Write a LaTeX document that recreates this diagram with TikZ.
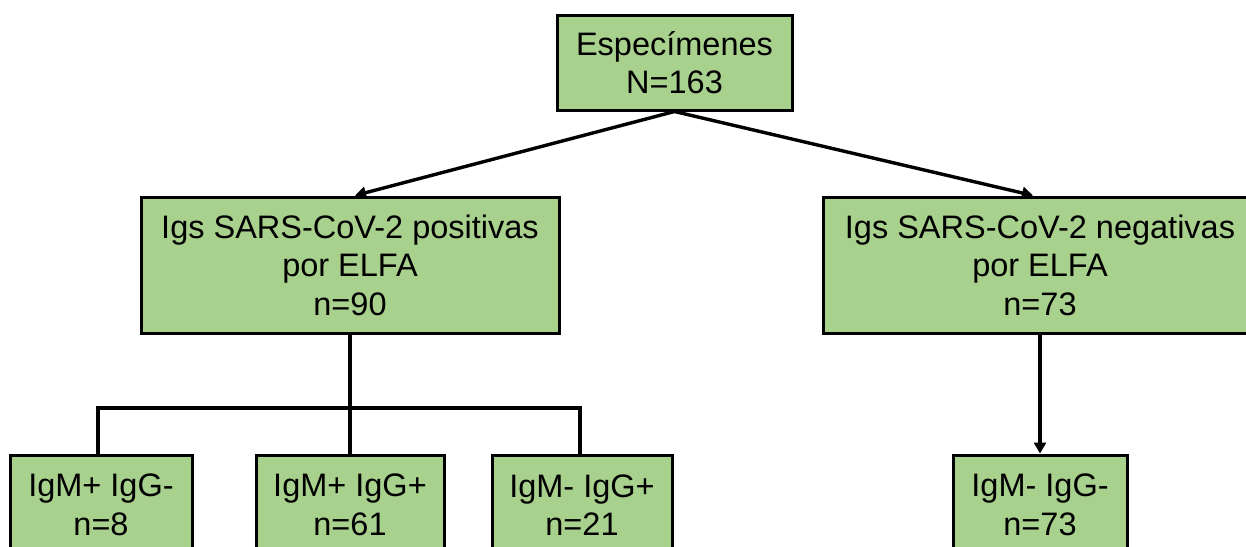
\documentclass[tikz,border=0pt]{standalone}
\usepackage{fontspec}
\setmainfont{Liberation Sans}
\usetikzlibrary{arrows.meta}
\definecolor{boxgreen}{RGB}{169,209,142}
\begin{document}
\begin{tikzpicture}[x=1pt,y=-1pt,
  box/.style={draw=black, line width=3pt, fill=boxgreen, align=center, inner sep=0pt,
    font=\fontsize{32.5}{38.5}\selectfont},
  conn/.style={draw=black, line width=3.4pt},
  arr/.style={conn, -{Triangle[length=11pt,width=12pt]}}]
\useasboundingbox (0,0) rectangle (1246,546);
\clip (0,0) rectangle (1246,546);
\node[box, minimum width=235pt, minimum height=95pt] (top) at (674.5,62.5) {Especímenes\\N=163};
\node[box, minimum width=418pt, minimum height=136pt] (mL) at (350,265) {Igs SARS-CoV-2 positivas\\por ELFA\\n=90};
\node[box, minimum width=434pt, minimum height=136pt] (mR) at (1040,265) {Igs SARS-CoV-2 negativas\\por ELFA\\n=73};
\node[box, minimum width=182pt, minimum height=100pt] (b1) at (101,505) {IgM+ IgG-\\n=8};
\node[box, minimum width=188pt, minimum height=100pt] (b2) at (350,505) {IgM+ IgG+\\n=61};
\node[box, minimum width=180pt, minimum height=100pt] (b3) at (582,505) {IgM- IgG+\\n=21};
\node[box, minimum width=174pt, minimum height=100pt] (b4) at (1040,505) {IgM- IgG-\\n=73};
\coordinate (j) at (350,408);
\draw[arr] (top.south) -- ([xshift=5pt]mL.north);
\draw[arr] (top.south) -- ([xshift=-7pt]mR.north);
\draw[conn] (mL.south) -- (b2.north);
\draw[conn] ([xshift=-3pt]b1.north) |- (j) -| ([xshift=-2pt]b3.north);
\draw[arr] (mR.south) -- (b4.north);
\end{tikzpicture}
\end{document}
